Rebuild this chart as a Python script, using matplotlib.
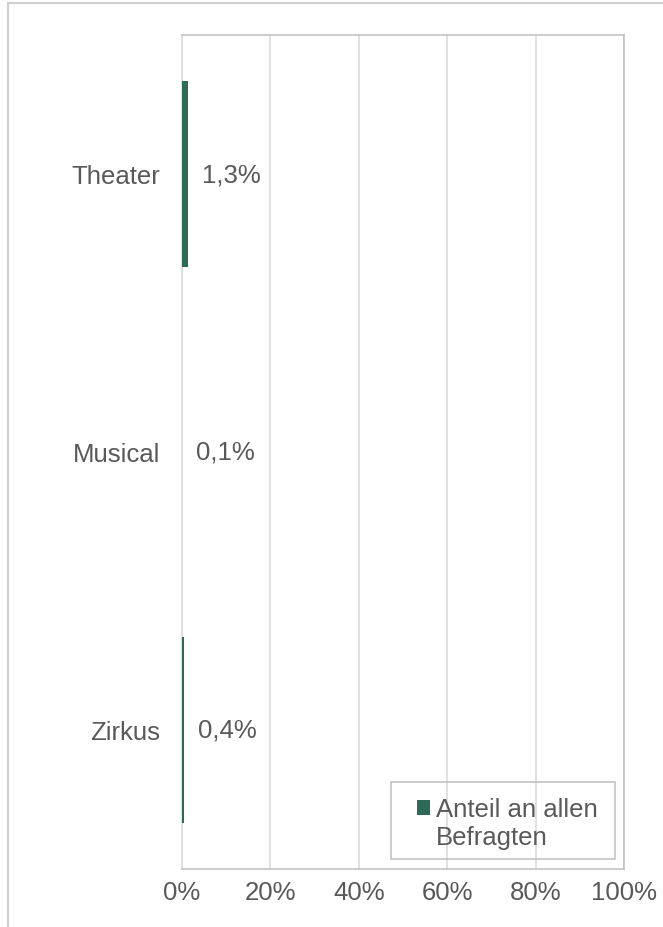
import numpy as np
import matplotlib.pyplot as plt
from matplotlib.patches import Rectangle
from matplotlib.legend_handler import HandlerPatch
from matplotlib.ticker import FixedLocator, FuncFormatter

plt.rcParams['font.family'] = ['Liberation Sans', 'DejaVu Sans']

# Anteil an allen Befragten (in %)
kategorien = ['Theater', 'Musical', 'Zirkus']
anteile = [1.3, 0.1, 0.4]
x_ticks = [0, 20, 40, 60, 80, 100]
serie = 'Anteil an allen\nBefragten'

gruen = '#2F6A58'
text_grau = '#595959'
gitter_grau = '#D9D9D9'
rahmen_grau = '#BFBFBF'
fs = 18.5

fig = plt.figure(figsize=(6.63, 9.28), dpi=100)
ax = fig.add_axes([182/663, 1-870/928, 442/663, 834/928])

y = np.arange(len(kategorien))
bars = ax.barh(y, anteile, height=0.667, color=gruen, label=serie, zorder=3)

ax.set_xlim(0, 100)
ax.set_ylim(len(kategorien) - 0.5, -0.5)
ax.xaxis.set_major_locator(FixedLocator(x_ticks))
ax.xaxis.set_major_formatter(FuncFormatter(lambda v, p: f'{v:.0f}%'))
ax.set_yticks(y)
ax.set_yticklabels(kategorien)
ax.tick_params(axis='x', length=0, pad=8, labelsize=fs, labelcolor=text_grau)
ax.tick_params(axis='y', length=0, pad=16, labelsize=fs, labelcolor=text_grau)
ax.grid(axis='x', color=gitter_grau, lw=1.1, zorder=0)
ax.set_axisbelow(True)

for s in ['top', 'right', 'bottom']:
    ax.spines[s].set_color(rahmen_grau)
    ax.spines[s].set_linewidth(1.1)
ax.spines['left'].set_color(gitter_grau)
ax.spines['left'].set_linewidth(1.1)

# Datenbeschriftungen rechts neben den Balken
for b, v in zip(bars, anteile):
    ax.annotate(f'{v:.1f}%'.replace('.', ','),
                xy=(v, b.get_y() + b.get_height() / 2),
                xytext=(10, 0), textcoords='offset points',
                ha='left', va='center', fontsize=fs, color=text_grau)


# Legendensymbol auf Höhe der ersten Textzeile
def quadrat_oben(legend, orig_handle, xdescent, ydescent, width, height, fontsize):
    return Rectangle((-xdescent, -ydescent + 0.62 * fontsize), width, height)


leg = fig.legend(handles=[bars.patches[0]], labels=[serie], loc='lower left',
                 bbox_to_anchor=(417/663, 1-850/928), bbox_transform=fig.transFigure,
                 fontsize=fs, frameon=False,
                 handlelength=0.5, handleheight=0.5, handletextpad=0.22,
                 borderpad=0, borderaxespad=0,
                 handler_map={Rectangle: HandlerPatch(patch_func=quadrat_oben)})
for t in leg.get_texts():
    t.set_color(text_grau)
    t.set_linespacing(1.2)

# Legendenrahmen
ax.add_patch(Rectangle(((391-182)/442, (870-860)/834), (615-391)/442, (860-783)/834,
                       transform=ax.transAxes, fill=False, edgecolor=rahmen_grau,
                       lw=1.1, zorder=4))

# äußerer Diagrammrahmen
fig.patches.append(Rectangle((8/663, -0.1), 1.2, 1 - 4/928 + 0.1,
                             transform=fig.transFigure, fill=False,
                             edgecolor='#D0D0D0', lw=1.5))

fig.savefig('out.png', dpi=100)
